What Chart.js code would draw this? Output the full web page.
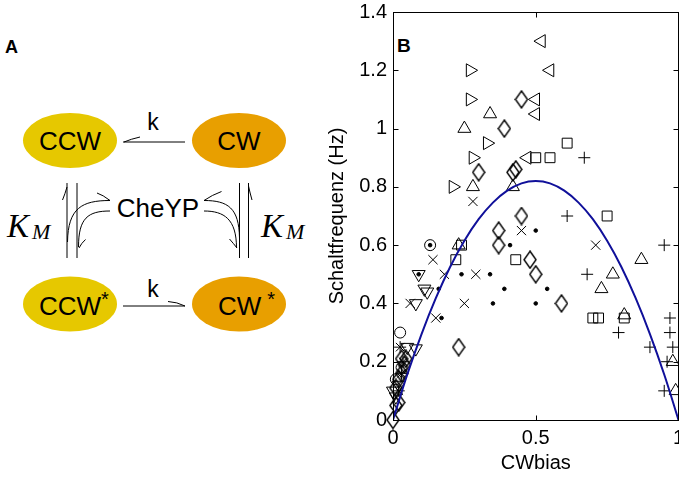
<!DOCTYPE html>
<html>
<head>
<meta charset="utf-8">
<script src="https://cdn.jsdelivr.net/npm/chart.js@4.4.0/dist/chart.umd.min.js"></script>
<style>
html, body { margin: 0; background: #fff; overflow: hidden; }
#wrap { position: relative; width: 679px; height: 477px; overflow: hidden; }
#diagram { position: absolute; left: 0; top: 0; }
#box { position: absolute; left: 320px; top: 0; width: 367px; height: 477px; }
</style>
</head>
<body>
<div id="wrap">
<svg id="diagram" width="679" height="477" font-family="Liberation Sans, Arial, sans-serif">
  <text x="5" y="53" font-size="18" font-weight="bold">A</text>
  <text x="397" y="52" font-size="19" font-weight="bold">B</text>

  <ellipse cx="70" cy="140.5" rx="47" ry="27.5" fill="#e6c800"/>
  <ellipse cx="239" cy="140.5" rx="47" ry="27.5" fill="#e89f00"/>
  <ellipse cx="70" cy="304" rx="47" ry="27.5" fill="#e6c800"/>
  <ellipse cx="239" cy="304" rx="47" ry="27.5" fill="#e89f00"/>

  <g font-size="26">
    <text x="70" y="150" text-anchor="middle">CCW</text>
    <text x="239" y="150" text-anchor="middle">CW</text>
    <text x="39" y="315">CCW<tspan font-size="20" dy="-9">*</tspan></text>
    <text x="218" y="315">CW<tspan dx="6" font-size="20" dy="-9">*</tspan></text>
    <text x="158" y="217" text-anchor="middle">CheYP</text>
  </g>
  <text x="153" y="130" font-size="23" text-anchor="middle">k</text>
  <text x="153" y="297" font-size="23" text-anchor="middle">k</text>

  <g font-family="Liberation Serif, Times New Roman, serif" font-style="italic">
    <text x="7" y="237" font-size="33">K</text>
    <text x="32" y="239" font-size="22">M</text>
    <text x="261" y="237" font-size="33">K</text>
    <text x="286" y="239" font-size="22">M</text>
  </g>

  <g stroke="#000" stroke-width="1" fill="none">
    <!-- k arrows -->
    <path d="M123 142 L185 142"/>
    <path d="M124 142 Q131 139 140 137"/>
    <path d="M123 306 L185 306"/>
    <path d="M168 301.5 Q177 302 185 306"/>
    <!-- left pair -->
    <path d="M67 183 L67 258"/>
    <path d="M77 183 L77 258"/>
    <path d="M67 187 Q65 194 62.5 200"/>
    <path d="M110 200.5 C82 200.5 68 208 67.5 242"/>
    <path d="M110 200.5 Q103 195 97 193"/>
    <path d="M110 211 C88 211 78.5 218 78.5 247"/>
    <path d="M79 248 Q81.5 243 85.5 239.5"/>
    <!-- right pair -->
    <path d="M239.5 183 L239.5 258"/>
    <path d="M248.5 183 L248.5 258"/>
    <path d="M248.5 186 Q250 193 252 200"/>
    <path d="M204 200.5 C228 200.5 239 208 239.5 238"/>
    <path d="M204 200.5 Q212 195 221.5 191.5"/>
    <path d="M204 211 C224 211 236.5 219 236.5 248"/>
    <path d="M229.5 239 Q233.5 243.5 237 248"/>
  </g>
</svg>
<div id="box"><canvas id="chart" width="367" height="477"></canvas></div>
</div>
<script>
// measured switching frequency vs CW bias, one array per marker symbol
const rightTri = [[0.27, 1.20], [0.27, 1.10], [0.33, 0.95], [0.28, 0.90], [0.21, 0.80]];
const leftTri = [[0.52, 1.30], [0.55, 1.20], [0.50, 1.10], [0.50, 1.05], [0.47, 0.90]];
const upTri = [[0.34, 1.05], [0.25, 1.00], [0.28, 0.80], [0.42, 0.80], [0.23, 0.60], [0.87, 0.55],
    [0.77, 0.50], [0.73, 0.45], [0.81, 0.36], [0.98, 0.20], [0.99, 0.10]];
const downTri = [[0.09, 0.50], [0.11, 0.45], [0.12, 0.44], [0.08, 0.40], [0.05, 0.25], [0.08, 0.245],
    [0.00, 0.10], [0.01, 0.08], [0.02, 0.12]];
const diamonds = [[0.45, 1.10], [0.39, 1.00], [0.30, 0.85], [0.42, 0.85], [0.43, 0.86], [0.45, 0.70],
    [0.37, 0.65], [0.37, 0.60], [0.48, 0.55], [0.50, 0.50], [0.59, 0.40], [0.23, 0.25],
    [0.00, 0.00], [0.01, 0.05], [0.02, 0.06], [0.01, 0.11], [0.02, 0.14], [0.03, 0.16],
    [0.04, 0.19], [0.03, 0.21], [0.045, 0.21]];
const squares = [[0.61, 0.95], [0.50, 0.90], [0.55, 0.90], [0.75, 0.70], [0.24, 0.60], [0.22, 0.55],
    [0.43, 0.55], [0.70, 0.35], [0.72, 0.35], [0.81, 0.35]];
const pluses = [[0.67, 0.90], [0.61, 0.70], [0.95, 0.60], [0.68, 0.50], [0.79, 0.30], [0.97, 0.35],
    [0.97, 0.30], [0.90, 0.25], [0.98, 0.25], [0.96, 0.20], [0.95, 0.10]];
const crosses = [[0.28, 0.75], [0.45, 0.65], [0.71, 0.60], [0.14, 0.55], [0.18, 0.50], [0.29, 0.50],
    [0.06, 0.40], [0.25, 0.40], [0.15, 0.35]];
const dots = [[0.50, 0.65], [0.13, 0.60], [0.41, 0.60], [0.09, 0.50], [0.24, 0.50], [0.34, 0.50],
    [0.16, 0.45], [0.39, 0.45], [0.54, 0.45], [0.35, 0.40], [0.50, 0.40], [0.17, 0.35]];
const circles = [[0.13, 0.60], [0.025, 0.30], [0.01, 0.14], [0.03, 0.18]];
const stars = [[0.025, 0.25], [0.02, 0.10], [0.03, 0.16], [0.035, 0.20]];

// fitted curve
const curveX = [0, 0.05, 0.1, 0.15, 0.2, 0.25, 0.3, 0.35, 0.4, 0.45, 0.5,
    0.55, 0.6, 0.65, 0.7, 0.75, 0.8, 0.85, 0.9, 0.95, 1];
const curveY = [0, 0.156, 0.295, 0.418, 0.525, 0.615, 0.689, 0.746, 0.787, 0.812, 0.82,
    0.812, 0.787, 0.746, 0.689, 0.615, 0.525, 0.418, 0.295, 0.156, 0];

const xTicks = [0, 0.5, 1];
const xTickLabels = ['0', '0.5', '1'];
const yTicks = [0, 0.2, 0.4, 0.6, 0.8, 1, 1.2, 1.4];
const yTickLabels = ['0', '0.2', '0.4', '0.6', '0.8', '1', '1.2', '1.4'];

const FONT = 'Liberation Sans, Arial, sans-serif';

// matlab style diamond is taller than wide
function diamondMarker(w, h) {
    const c = document.createElement('canvas');
    c.width = w + 2;
    c.height = h + 2;
    const g = c.getContext('2d');
    g.strokeStyle = '#000';
    g.lineWidth = 1.4;
    g.beginPath();
    g.moveTo(c.width / 2, 1);
    g.lineTo(c.width - 1, c.height / 2);
    g.lineTo(c.width / 2, c.height - 1);
    g.lineTo(1, c.height / 2);
    g.closePath();
    g.stroke();
    return c;
}

function markers(data, style, radius, rotation, filled) {
    return {
        data: data,
        pointStyle: style,
        pointRadius: radius,
        pointRotation: rotation || 0,
        pointBorderColor: '#000',
        pointBackgroundColor: filled ? '#000' : 'rgba(0,0,0,0)',
        pointBorderWidth: 1,
        showLine: false,
        clip: false
    };
}

const frame = {
    id: 'frame',
    afterDatasetsDraw(chart) {
        const {ctx, chartArea: a, scales: {x, y}} = chart;
        const L = Math.round(a.left) + 0.5, R = Math.round(a.right) - 0.5;
        const T = Math.round(a.top) + 0.5, B = Math.round(a.bottom) + 0.5;
        ctx.save();
        ctx.strokeStyle = '#000';
        ctx.lineWidth = 1;
        ctx.strokeRect(L, T, R - L, B - T);
        ctx.beginPath();
        yTicks.forEach((v) => {
            const py = Math.round(y.getPixelForValue(v)) + 0.5;
            ctx.moveTo(L, py); ctx.lineTo(L + 5, py);
            ctx.moveTo(R, py); ctx.lineTo(R - 5, py);
        });
        xTicks.forEach((v) => {
            const px = Math.round(x.getPixelForValue(v)) + 0.5;
            ctx.moveTo(px, B); ctx.lineTo(px, B - 5);
            ctx.moveTo(px, T); ctx.lineTo(px, T + 5);
        });
        ctx.stroke();
        ctx.restore();
    }
};

new Chart(document.getElementById('chart'), {
    type: 'scatter',
    data: {
        datasets: [
            {
                data: curveX.map((v, i) => ({x: v, y: curveY[i]})),
                showLine: true,
                borderColor: '#10109a',
                borderWidth: 2,
                pointRadius: 0,
                tension: 0.4
            },
            markers(rightTri, 'triangle', 7.5, 90),
            markers(leftTri, 'triangle', 7.5, 270),
            markers(upTri, 'triangle', 7.5, 0),
            markers(downTri, 'triangle', 7.5, 180),
            markers(diamonds, diamondMarker(12, 17), 7),
            markers(squares, 'rect', 7),
            markers(pluses, 'cross', 6),
            markers(crosses, 'crossRot', 6.5),
            markers(dots, 'circle', 1.8, 0, true),
            markers(circles, 'circle', 5.5),
            markers(stars, 'star', 6)
        ]
    },
    options: {
        responsive: false,
        animation: false,
        events: [],
        layout: {padding: {top: 12, right: 1, bottom: 0, left: 0}},
        plugins: {legend: {display: false}, tooltip: {enabled: false}},
        scales: {
            x: {
                type: 'linear',
                min: 0,
                max: 1,
                afterBuildTicks: (s) => { s.ticks = xTicks.map((v) => ({value: v})); },
                afterFit: (s) => { s.height = 57; s.paddingLeft = 0; s.paddingRight = 0; },
                grid: {display: false, drawTicks: false},
                border: {display: false},
                ticks: {
                    color: '#000',
                    font: {family: FONT, size: 20},
                    padding: 6,
                    maxRotation: 0,
                    callback: (v, i) => xTickLabels[i]
                },
                title: {
                    display: true,
                    text: 'CWbias',
                    color: '#000',
                    font: {family: FONT, size: 20},
                    padding: {top: 0, bottom: 2}
                }
            },
            y: {
                type: 'linear',
                min: 0,
                max: 1.4,
                afterBuildTicks: (s) => { s.ticks = yTicks.map((v) => ({value: v})); },
                afterFit: (s) => { s.width = 73; s.paddingTop = 0; s.paddingBottom = 0; },
                grid: {display: false, drawTicks: false},
                border: {display: false},
                ticks: {
                    color: '#000',
                    font: {family: FONT, size: 20},
                    padding: 6,
                    callback: (v, i) => yTickLabels[i]
                },
                title: {
                    display: true,
                    text: 'Schaltfrequenz (Hz)',
                    color: '#000',
                    font: {family: FONT, size: 20},
                    padding: {top: 5, bottom: 0}
                }
            }
        }
    },
    plugins: [frame]
});
</script>
</body>
</html>
